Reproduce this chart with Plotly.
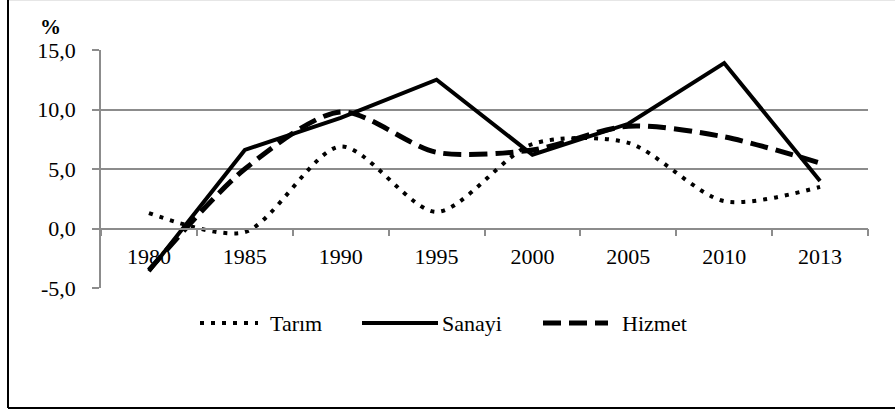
import plotly.graph_objects as go

years = ["1980", "1985", "1990", "1995", "2000", "2005", "2010", "2013"]
tarim = [1.3, -0.3, 6.9, 1.4, 7.1, 7.2, 2.3, 3.5]
sanayi = [-3.6, 6.6, 9.3, 12.5, 6.2, 8.8, 13.9, 4.0]
hizmet = [-3.5, 5.0, 9.8, 6.4, 6.6, 8.6, 7.7, 5.5]

y_ticks = [-5, 0, 5, 10, 15]
y_labels = ["-5,0", "0,0", "5,0", "10,0", "15,0"]

FONT = "Liberation Serif"
GRID = "#8c8c8c"

# plot area in pixels: x 101..868, y 50..288
W, H = 895, 412
L, R, T, B = 101, 27, 50, 124
PW, PH = W - L - R, H - T - B

def px(x):
    return (x - L) / PW

def py(y):
    return (H - B - y) / PH

series = [
    ("Tarım", tarim, dict(color="black", width=4, dash="4px,7px"), "spline"),
    ("Sanayi", sanayi, dict(color="black", width=4), "linear"),
    ("Hizmet", hizmet, dict(color="black", width=5, dash="18px,8px"), "spline"),
]

fig = go.Figure()
for name, vals, ln, shape in series:
    ln = dict(ln, shape=shape)
    if shape == "spline":
        ln["smoothing"] = 0.8
    fig.add_trace(go.Scatter(x=years, y=vals, name=name, mode="lines",
                             line=ln, showlegend=False))

# hand made legend (longer samples than plotly's own)
legend_pos = [(200, 258, 268), (362, 438, 440), (543, 608, 620)]
for (name, vals, ln, shape), (x0, x1, xt) in zip(series, legend_pos):
    fig.add_shape(type="line", xref="paper", yref="paper",
                  x0=px(x0), x1=px(x1), y0=py(323), y1=py(323),
                  line=dict(color="black", width=ln["width"], dash=ln.get("dash", "solid")))
    fig.add_annotation(text=name, xref="paper", yref="paper", x=px(xt), y=py(323),
                       xanchor="left", yanchor="middle", showarrow=False,
                       font=dict(family=FONT, size=22, color="black"))

# outer frame
fig.add_shape(type="line", xref="paper", yref="paper", x0=px(8), x1=px(900),
              y0=py(0.5), y1=py(0.5), line=dict(color="#e6e6e6", width=1))
fig.add_shape(type="line", xref="paper", yref="paper", x0=px(8), x1=px(8),
              y0=py(0), y1=py(408), line=dict(color="black", width=2))
fig.add_shape(type="line", xref="paper", yref="paper", x0=px(8), x1=px(900),
              y0=py(408), y1=py(408), line=dict(color="black", width=2))

fig.add_annotation(text="<b>%</b>", xref="paper", yref="paper", x=px(50), y=py(27),
                   xanchor="center", yanchor="middle", showarrow=False,
                   font=dict(family=FONT, size=21, color="black"))

fig.update_layout(
    width=W, height=H,
    margin=dict(l=L, r=R, t=T, b=B),
    paper_bgcolor="white", plot_bgcolor="white",
    font=dict(family=FONT, size=22, color="black"),
    xaxis=dict(type="category", range=[-0.5, 7.5], anchor="free", position=0.25,
               showline=True, linecolor=GRID, linewidth=1.5,
               ticks="outside", tickson="boundaries", ticklen=7, tickcolor=GRID,
               tickwidth=1.5, showgrid=False, ticklabelstandoff=8),
    yaxis=dict(range=[-5, 15], tickvals=y_ticks, ticktext=y_labels,
               showline=True, linecolor=GRID, linewidth=1.5,
               ticks="outside", ticklen=7, tickcolor=GRID, tickwidth=1.5,
               showgrid=True, gridcolor=GRID, gridwidth=1.5, zeroline=False,
               ticklabelstandoff=12),
)

fig.write_html("out.html", config={"displayModeBar": False},
               post_script="document.body.style.margin='0';")
